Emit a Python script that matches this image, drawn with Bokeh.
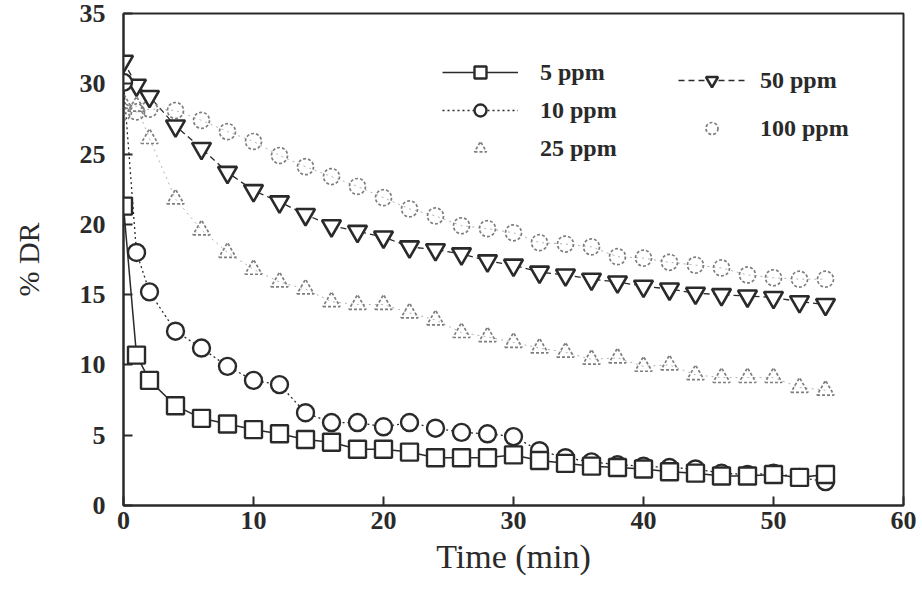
from bokeh.plotting import figure
from bokeh.models import Legend, LegendItem, FixedTicker, Range1d
from bokeh.embed import file_html
from bokeh.resources import INLINE

# Drag reduction (%) versus time for five polymer concentrations
time_min = [0, 1, 2, 4, 6, 8, 10, 12, 14, 16, 18, 20, 22, 24, 26, 28,
            30, 32, 34, 36, 38, 40, 42, 44, 46, 48, 50, 52, 54]

dr_5ppm = [21.3, 10.7, 8.9, 7.1, 6.2, 5.8, 5.4, 5.1, 4.7, 4.5, 4.0, 4.0, 3.8, 3.4, 3.4,
           3.4, 3.6, 3.2, 3.0, 2.8, 2.7, 2.6, 2.4, 2.3, 2.1, 2.1, 2.2, 2.0, 2.2]
dr_10ppm = [30.1, 18.0, 15.2, 12.4, 11.2, 9.9, 8.9, 8.6, 6.6, 5.9, 5.9, 5.6, 5.9, 5.5, 5.2,
            5.1, 4.9, 3.9, 3.4, 3.1, 2.9, 2.8, 2.7, 2.6, 2.3, 2.2, 2.3, 2.0, 1.7]
dr_25ppm = [28.6, 28.4, 26.1, 21.8, 19.6, 18.0, 16.8, 15.9, 15.4, 14.5, 14.3, 14.3, 13.7, 13.2,
            12.3, 12.0, 11.6, 11.2, 10.9, 10.4, 10.5, 9.9, 10.0, 9.3, 9.1, 9.1, 9.1, 8.4, 8.2]
dr_50ppm = [31.6, 29.9, 29.1, 27.0, 25.4, 23.7, 22.4, 21.6, 20.7, 19.9, 19.5, 19.1, 18.4, 18.2,
            17.9, 17.4, 17.1, 16.6, 16.4, 16.1, 15.9, 15.6, 15.4, 15.1, 15.0, 14.9, 14.8, 14.5, 14.3]
dr_100ppm = [28.0, 28.0, 28.2, 28.1, 27.4, 26.6, 25.9, 24.9, 24.1, 23.4, 22.7, 21.9, 21.1, 20.6,
             19.9, 19.7, 19.4, 18.7, 18.6, 18.4, 17.7, 17.6, 17.3, 17.1, 16.9, 16.4, 16.2, 16.1, 16.1]

x_ticks = [0, 10, 20, 30, 40, 50, 60]
y_ticks = [0, 5, 10, 15, 20, 25, 30, 35]

DARK = "#2a2a2a"
LIGHT = "#7e7e7e"
SERIF = "Liberation Serif"

p = figure(width=922, height=596, x_range=Range1d(0, 60), y_range=Range1d(0, 35),
           output_backend="svg", toolbar_location=None,
           min_border_left=123, min_border_right=19, min_border_top=13, min_border_bottom=91)

p.background_fill_color = "white"
p.border_fill_color = "white"
p.outline_line_color = DARK
p.outline_line_width = 2
p.xgrid.visible = False
p.ygrid.visible = False

for ax in (p.xaxis[0], p.yaxis[0]):
    ax.axis_line_color = DARK
    ax.axis_line_width = 2
    ax.major_tick_line_color = DARK
    ax.major_tick_line_width = 2
    ax.major_tick_in = 9
    ax.major_tick_out = 0
    ax.minor_tick_line_color = None
    ax.major_label_text_font = SERIF
    ax.major_label_text_font_style = "bold"
    ax.major_label_text_font_size = "26px"
    ax.major_label_text_color = DARK
    ax.axis_label_text_font = SERIF
    ax.axis_label_text_color = DARK

p.xaxis.ticker = FixedTicker(ticks=x_ticks)
p.yaxis.ticker = FixedTicker(ticks=y_ticks)
p.xaxis.major_label_standoff = 6
p.yaxis.major_label_standoff = 18
p.xaxis.axis_label = "Time (min)"
p.xaxis.axis_label_text_font_size = "34px"
p.xaxis.axis_label_text_font_style = "normal"
p.xaxis.axis_label_standoff = 6
p.yaxis.axis_label = "% DR"
p.yaxis.axis_label_text_font_size = "30px"
p.yaxis.axis_label_text_font_style = "normal"
p.yaxis.axis_label_standoff = 32

# connecting lines
l5 = p.line(time_min, dr_5ppm, line_color=DARK, line_width=1.5)
l10 = p.line(time_min, dr_10ppm, line_color=DARK, line_width=1.3, line_dash="2 3")
p.line(time_min, dr_25ppm, line_color=LIGHT, line_width=1, line_dash="2 4", line_alpha=0.6)
l50 = p.line(time_min, dr_50ppm, line_color=DARK, line_width=1.3, line_dash="6 4")
p.line(time_min, dr_100ppm, line_color=LIGHT, line_width=1, line_dash="2 4", line_alpha=0.6)

# markers
s100 = p.scatter(time_min, dr_100ppm, marker="circle", size=16, fill_color="white",
                 fill_alpha=0, line_color=LIGHT, line_width=1.7, line_dash="3 2")
s25 = p.scatter(time_min, dr_25ppm, marker="triangle", size=17, fill_color="white",
                fill_alpha=0, line_color=LIGHT, line_width=1.7, line_dash="3 2")
s50 = p.scatter(time_min, dr_50ppm, marker="inverted_triangle", size=19, fill_color="white",
                line_color=DARK, line_width=2.6)
s10 = p.scatter(time_min, dr_10ppm, marker="circle", size=17, fill_color="white",
                line_color=DARK, line_width=2.4)
s5 = p.scatter(time_min, dr_5ppm, marker="square", size=17, fill_color="white",
               line_color=DARK, line_width=2.4)


def make_legend(items, loc, glyph_w, standoff, spacing):
    lg = Legend(items=items, location=loc, orientation="vertical")
    lg.glyph_width = glyph_w
    lg.glyph_height = 30
    lg.label_standoff = standoff
    lg.spacing = spacing
    lg.padding = 0
    lg.margin = 0
    lg.border_line_color = None
    lg.background_fill_alpha = 0
    lg.label_text_font = SERIF
    lg.label_text_font_style = "bold"
    lg.label_text_font_size = "24px"
    lg.label_text_color = DARK
    return lg


left_items = [
    LegendItem(label="5 ppm", renderers=[l5, s5]),
    LegendItem(label="10 ppm", renderers=[l10, s10]),
    LegendItem(label="25 ppm", renderers=[s25]),
]
right_items = [
    LegendItem(label="50 ppm", renderers=[l50, s50]),
    LegendItem(label="100 ppm", renderers=[s100]),
]

p.add_layout(make_legend(left_items, (319, 342), 76, 22, 8))
p.add_layout(make_legend(right_items, (555, 362), 67, 15, 18))

open("out.html", "w").write(file_html(p, INLINE))
